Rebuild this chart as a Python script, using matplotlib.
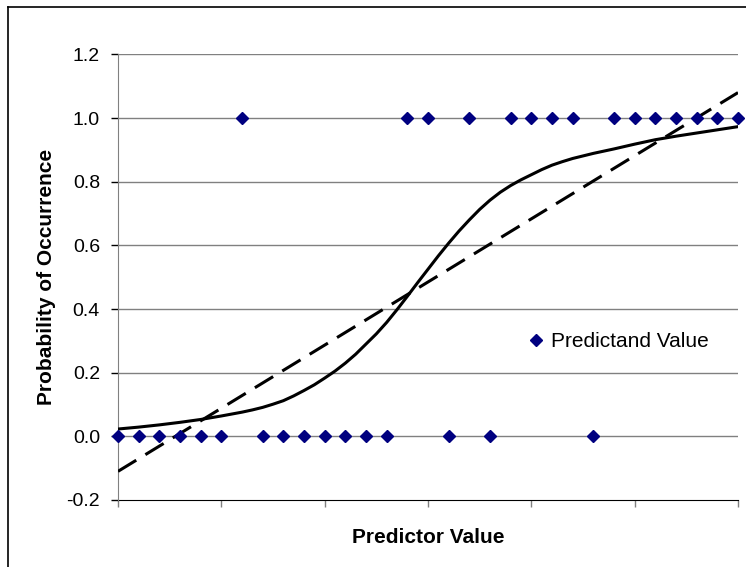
import matplotlib.pyplot as plt
from matplotlib.lines import Line2D

plt.rcParams['font.family'] = ['Liberation Sans', 'DejaVu Sans']

# pontos observados (preditor, preditando 0/1)
pred_x = list(range(31))
pred_y = [0, 0, 0, 0, 0, 0, 1, 0, 0, 0, 0, 0, 0, 0, 1, 1,
          0, 1, 0, 1, 1, 1, 1, 0, 1, 1, 1, 1, 1, 1, 1]

# reta de regressao (extremos)
lin_x = [0, 30]
lin_y = [-0.11, 1.08]

# curva logistica
curve_x = [0, 1, 2, 3, 4, 5, 6, 6.5, 7, 7.5, 8, 8.5, 9, 9.5, 10, 10.5, 11,
           11.5, 12, 12.5, 13, 13.5, 14, 14.5, 15, 15.5, 16, 16.5, 17, 17.5,
           18, 18.5, 19, 19.5, 20, 20.5, 21, 21.5, 22, 23, 24, 25, 26,
           27, 28, 29, 30]
curve_y = [0.023, 0.029, 0.036, 0.044, 0.053, 0.064, 0.076, 0.083, 0.091,
           0.101, 0.112, 0.127, 0.144, 0.162, 0.183, 0.205, 0.230, 0.258,
           0.290, 0.322, 0.358, 0.398, 0.440, 0.483, 0.525, 0.567, 0.607,
           0.645, 0.680, 0.713, 0.742, 0.767, 0.788, 0.806, 0.822, 0.838,
           0.852, 0.863, 0.873, 0.889, 0.903, 0.918, 0.932, 0.943, 0.953,
           0.963, 0.973]

y_ticks = [-0.2, 0.0, 0.2, 0.4, 0.6, 0.8, 1.0, 1.2]
x_ticks = [0, 5, 10, 15, 20, 25, 30]

fig = plt.figure(figsize=(7.46, 5.67), dpi=100)
ax = fig.add_axes([118 / 746, 1 - 500 / 567, 620 / 746, 445.6 / 567])

ax.set_xlim(0, 30)
ax.set_ylim(-0.2, 1.2)
ax.set_yticks(y_ticks)
ax.set_yticklabels(['%.1f' % v for v in y_ticks])
ax.set_xticks(x_ticks)
ax.set_xticklabels([])

for v in y_ticks[1:]:
    ax.axhline(v, color='#808080', linewidth=1.0, zorder=1)

ax.plot(lin_x, lin_y, color='black', linewidth=2.2, linestyle=(0, (7, 3.5)),
        zorder=3)
ax.plot(curve_x, curve_y, color='black', linewidth=2.2, zorder=3,
        solid_joinstyle='round')
ax.plot(pred_x, pred_y, linestyle='none', marker='D', markersize=6.5,
        color='#000080', label='Predictand Value', zorder=4, clip_on=False)

for s in ['top', 'right']:
    ax.spines[s].set_visible(False)
ax.spines['left'].set_color('#808080')
ax.spines['bottom'].set_color('black')
ax.spines['bottom'].set_zorder(2)
ax.tick_params(axis='y', direction='out', length=5, width=1, pad=8,
               labelsize=14, colors='black')
ax.tick_params(axis='x', direction='out', length=5, width=1, color='#808080')

ax.set_xlabel('Predictor Value', fontsize=15, fontweight='bold')
ax.xaxis.set_label_coords(0.5, -0.062)
ax.set_ylabel('Probability of Occurrence', fontsize=15, fontweight='bold')
ax.yaxis.set_label_coords(-0.1, 0.5)

ax.legend(loc='center left', bbox_to_anchor=(0.661, 0.356), frameon=False,
          fontsize=15, handlelength=0.8, handletextpad=0.3, borderpad=0,
          borderaxespad=0, markerscale=1.0)

# moldura do grafico (so topo e esquerda aparecem)
fig.add_artist(Line2D([8 / 746, 8 / 746], [0, 1 - 7 / 567], color='black',
                      linewidth=1.2))
fig.add_artist(Line2D([8 / 746, 1], [1 - 7 / 567, 1 - 7 / 567], color='black',
                      linewidth=1.2))

fig.savefig('out.png', dpi=100)
